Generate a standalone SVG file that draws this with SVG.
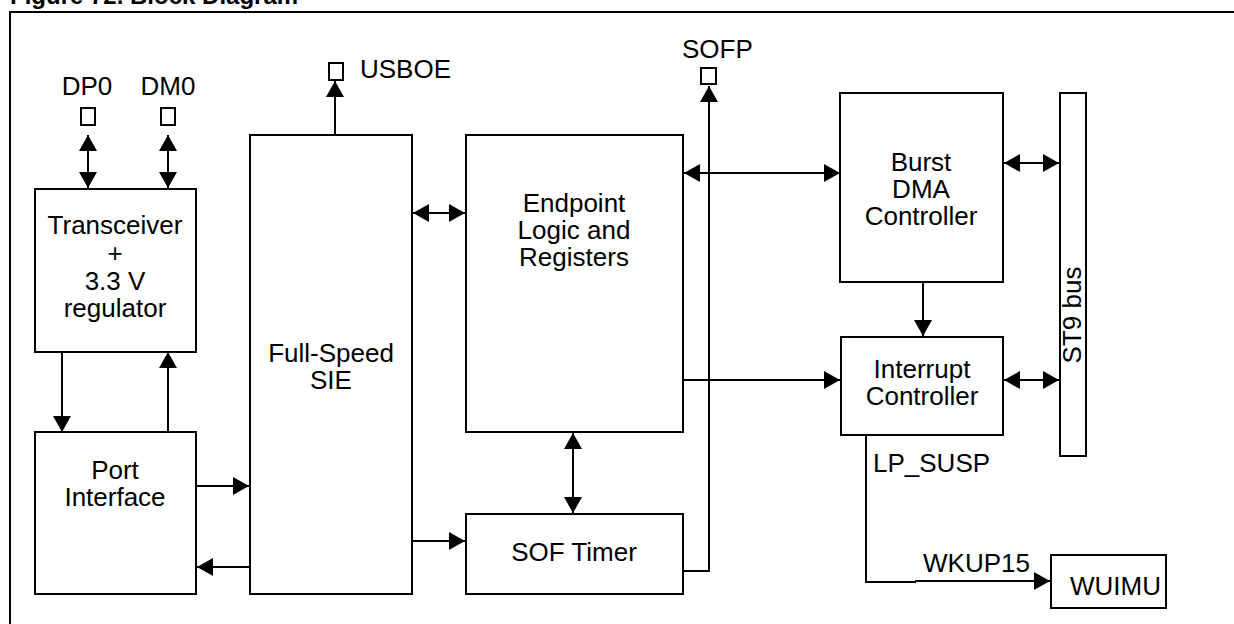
<svg xmlns="http://www.w3.org/2000/svg" width="1234" height="624" viewBox="0 0 1234 624">
<defs>
<marker id="ah" viewBox="0 0 16 18" refX="16" refY="9" markerWidth="16" markerHeight="18" markerUnits="userSpaceOnUse" orient="auto-start-reverse">
<path d="M0,0 L16,9 L0,18 Z" fill="#000"/>
</marker>
</defs>
<style>
.box{fill:#fff;stroke:#000;stroke-width:2}
.pin{fill:#fff;stroke:#000;stroke-width:2}
.ln{fill:none;stroke:#000;stroke-width:2}
text{font-family:"Liberation Sans",Arial,sans-serif;font-size:26px;fill:#000}
.c{text-anchor:middle}
</style>
<rect width="1234" height="624" fill="#fff"/>
<text x="10" y="4" style="font-weight:bold;font-size:24px">Figure 72. Block Diagram</text>
<path class="ln" d="M10,624 V12 H1234"/>

<g id="connectors">
<path class="ln" d="M88,135 V188" marker-start="url(#ah)" marker-end="url(#ah)"/>
<path class="ln" d="M168,135 V188" marker-start="url(#ah)" marker-end="url(#ah)"/>
<path class="ln" d="M62,352 V432" marker-end="url(#ah)"/>
<path class="ln" d="M168,432 V352" marker-end="url(#ah)"/>
<path class="ln" d="M196,486 H249" marker-end="url(#ah)"/>
<path class="ln" d="M249,567 H197" marker-end="url(#ah)"/>
<path class="ln" d="M413,213 H465" marker-start="url(#ah)" marker-end="url(#ah)"/>
<path class="ln" d="M335,135 V81" marker-end="url(#ah)"/>
<path class="ln" d="M413,541 H465" marker-end="url(#ah)"/>
<path class="ln" d="M573,433 V513" marker-start="url(#ah)" marker-end="url(#ah)"/>
<path class="ln" d="M683,571 H709 V86" marker-end="url(#ah)"/>
<path class="ln" d="M684,173 H840" marker-start="url(#ah)" marker-end="url(#ah)"/>
<path class="ln" d="M683,380 H840" marker-end="url(#ah)"/>
<path class="ln" d="M1004,163 H1059" marker-start="url(#ah)" marker-end="url(#ah)"/>
<path class="ln" d="M923,282 V336" marker-end="url(#ah)"/>
<path class="ln" d="M1004,380 H1059" marker-start="url(#ah)" marker-end="url(#ah)"/>
<path class="ln" d="M866,435 V582 H916"/>
<path class="ln" d="M915,581 H1050" marker-end="url(#ah)"/>
<text x="873" y="472">LP_SUSP</text>
<text x="923" y="572">WKUP15</text>
</g>

<g id="pin-dp0">
<rect class="pin" x="81" y="108" width="14" height="17"/>
<text class="c" x="87" y="95">DP0</text>
</g>
<g id="pin-dm0">
<rect class="pin" x="161" y="108" width="14" height="17"/>
<text class="c" x="168" y="95">DM0</text>
</g>
<g id="pin-usboe">
<rect class="pin" x="329" y="63" width="14" height="17"/>
<text x="360" y="78">USBOE</text>
</g>
<g id="pin-sofp">
<rect class="pin" x="701" y="68" width="15" height="16"/>
<text x="682" y="58">SOFP</text>
</g>

<g id="transceiver">
<rect class="box" x="35" y="189" width="161" height="163"/>
<text class="c" x="115" y="234">Transceiver</text>
<text class="c" x="115" y="262">+</text>
<text class="c" x="115" y="290">3.3 V</text>
<text class="c" x="115" y="317">regulator</text>
</g>
<g id="port-interface">
<rect class="box" x="35" y="432" width="161" height="162"/>
<text class="c" x="115" y="479">Port</text>
<text class="c" x="115" y="506">Interface</text>
</g>
<g id="full-speed-sie">
<rect class="box" x="250" y="135" width="162" height="459"/>
<text class="c" x="331" y="362">Full-Speed</text>
<text class="c" x="331" y="389">SIE</text>
</g>
<g id="endpoint-logic">
<rect class="box" x="466" y="135" width="217" height="297"/>
<text class="c" x="574" y="212">Endpoint</text>
<text class="c" x="574" y="239">Logic and</text>
<text class="c" x="574" y="266">Registers</text>
</g>
<g id="sof-timer">
<rect class="box" x="466" y="514" width="217" height="80"/>
<text class="c" x="574" y="561">SOF Timer</text>
</g>
<g id="burst-dma">
<rect class="box" x="840" y="93" width="163" height="189"/>
<text class="c" x="921" y="171">Burst</text>
<text class="c" x="921" y="198">DMA</text>
<text class="c" x="921" y="225">Controller</text>
</g>
<g id="interrupt-controller">
<rect class="box" x="841" y="337" width="162" height="98"/>
<text class="c" x="922" y="378">Interrupt</text>
<text class="c" x="922" y="405">Controller</text>
</g>
<g id="st9-bus">
<rect class="box" x="1060" y="93" width="26" height="363"/>
<text class="c" transform="translate(1081,315) rotate(-90)">ST9 bus</text>
</g>
<g id="wuimu">
<rect class="box" x="1051" y="555" width="115" height="53"/>
<text x="1070" y="595">WUIMU</text>
</g>
</svg>
